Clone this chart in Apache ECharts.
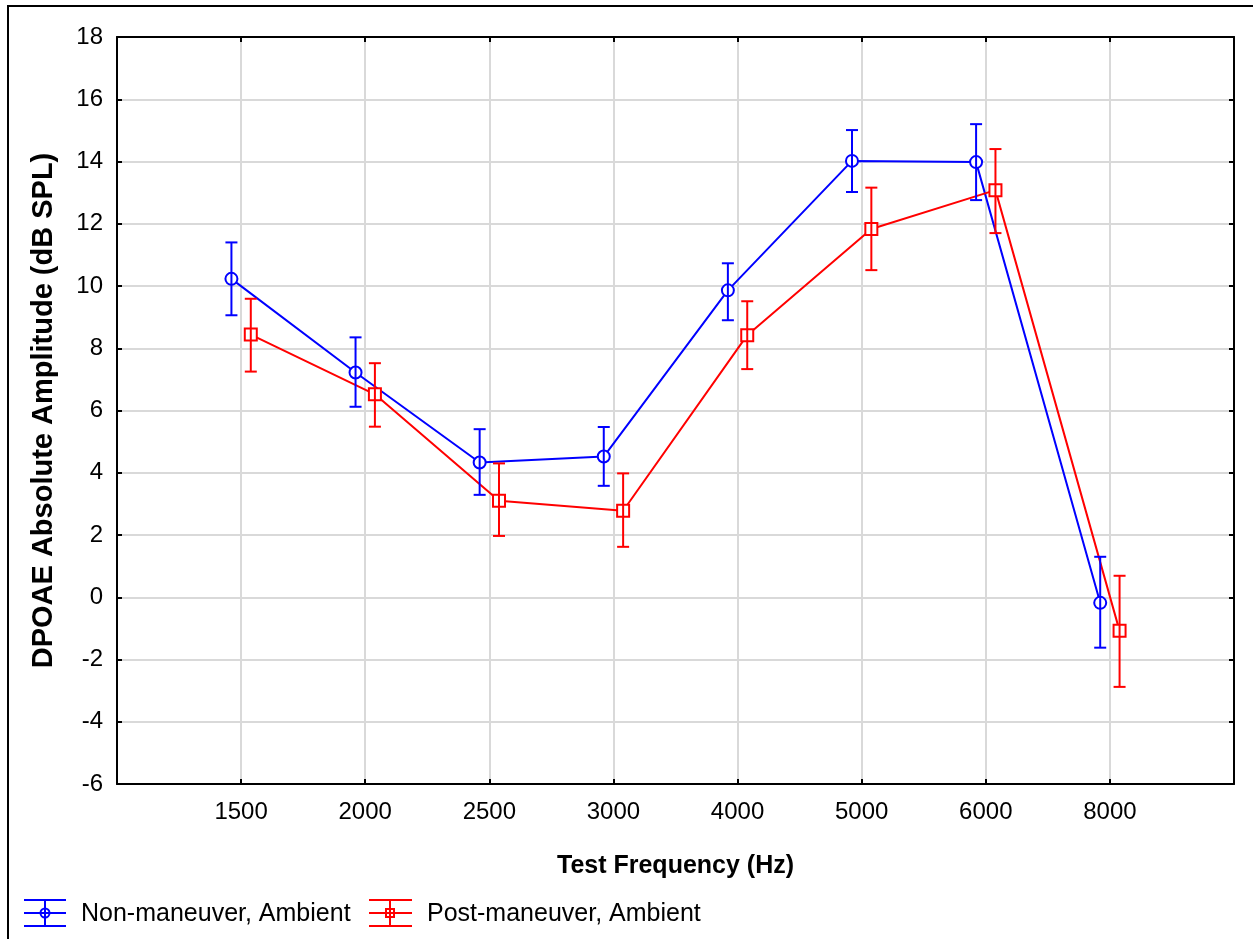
<!DOCTYPE html>
<html>
<head>
<meta charset="utf-8">
<script src="https://cdn.jsdelivr.net/npm/echarts@6/dist/echarts.min.js"></script>
<style>
html,body{margin:0;padding:0;background:#fff;}
#chart{width:1253px;height:939px;}
</style>
</head>
<body>
<div id="chart"></div>
<script>
const categories = ['1500','2000','2500','3000','4000','5000','6000','8000'];
const yTicks = [-6,-4,-2,0,2,4,6,8,10,12,14,16,18];
const seriesNames = ['Non-maneuver, Ambient','Post-maneuver, Ambient'];
const blueMean = [10.23, 7.22, 4.33, 4.52, 9.86, 14.02, 13.98, -0.18];
const blueLow  = [9.06, 6.12, 3.29, 3.58, 8.90, 13.02, 12.76, -1.62];
const blueHigh = [11.40, 8.35, 5.40, 5.47, 10.73, 15.01, 15.20, 1.30];
const redMean  = [8.44, 6.52, 3.10, 2.78, 8.42, 11.83, 13.08, -1.08];
const redLow   = [7.25, 5.48, 1.97, 1.62, 7.33, 10.51, 11.70, -2.88];
const redHigh  = [9.59, 7.52, 4.30, 3.98, 9.51, 13.16, 14.40, 0.69];

const FONT = 'Liberation Sans, Arial, sans-serif';
const BLUE = '#0000ff', RED = '#ff0000';
const OFF = 0.078;
const LW = 2;

function pts(mean, off){ return mean.map((v,i)=>[i+1+off, v]); }
function errs(lo, hi, off){ return lo.map((v,i)=>[i+1+off, v, hi[i]]); }

function errRender(color){
  return function(params, api){
    const x = api.value(0);
    const p1 = api.coord([x, api.value(1)]);
    const p2 = api.coord([x, api.value(2)]);
    const w = 6;
    const st = {stroke: color, lineWidth: LW};
    return {type:'group', children:[
      {type:'line', shape:{x1:p1[0],y1:p1[1],x2:p2[0],y2:p2[1]}, style:st},
      {type:'line', shape:{x1:p1[0]-w,y1:p1[1],x2:p1[0]+w,y2:p1[1]}, style:st},
      {type:'line', shape:{x1:p2[0]-w,y1:p2[1],x2:p2[0]+w,y2:p2[1]}, style:st}
    ]};
  };
}

const chart = echarts.init(document.getElementById('chart'), null, {renderer:'canvas'});
const axisLine = {show:true, onZero:false, lineStyle:{color:'#000', width:2}};
const tick = {show:true, inside:true, length:5, lineStyle:{color:'#000', width:2}};
const split = {show:true, lineStyle:{color:'#d9d9d9', width:2}};

const option = {
  animation:false,
  backgroundColor:'#fff',
  grid:{left:117, top:37, right:19, bottom:155, containLabel:false},
  xAxis:[{
    type:'value', min:0, max:9, interval:1, position:'bottom',
    axisLine, axisTick:tick, splitLine:split,
    axisLabel:{margin:16, color:'#000', fontSize:24, fontFamily:FONT,
      formatter:(v)=> (v>=1 && v<=8) ? categories[v-1] : ''},
    name:'Test Frequency (Hz)', nameLocation:'middle', nameGap:70,
    nameTextStyle:{color:'#000', fontSize:25, fontWeight:'bold', fontFamily:FONT}
  },{
    type:'value', min:0, max:9, interval:1, position:'top',
    axisLine, axisTick:tick, splitLine:{show:false}, axisLabel:{show:false}
  }],
  yAxis:[{
    type:'value', min:yTicks[0], max:yTicks[yTicks.length-1], interval:2, position:'left',
    axisLine, axisTick:tick, splitLine:split,
    axisLabel:{margin:14, color:'#000', fontSize:24, fontFamily:FONT},
    name:'DPOAE Absolute Amplitude (dB SPL)', nameLocation:'middle', nameGap:59, nameRotate:90,
    nameTextStyle:{color:'#000', fontSize:29, fontWeight:'bold', fontFamily:FONT}
  },{
    type:'value', min:yTicks[0], max:yTicks[yTicks.length-1], interval:2, position:'right',
    axisLine, axisTick:tick, splitLine:{show:false}, axisLabel:{show:false}
  }],
  series:[
    {name:seriesNames[0], type:'line', data:pts(blueMean,-OFF), symbol:'circle', symbolSize:12,
     itemStyle:{color:'#fff', borderColor:BLUE, borderWidth:LW}, lineStyle:{color:BLUE, width:LW}, z:3},
    {name:seriesNames[1], type:'line', data:pts(redMean,OFF), symbol:'rect', symbolSize:12,
     itemStyle:{color:'#fff', borderColor:RED, borderWidth:LW}, lineStyle:{color:RED, width:LW}, z:3},
    {type:'custom', data:errs(blueLow,blueHigh,-OFF), renderItem:errRender(BLUE), z:4},
    {type:'custom', data:errs(redLow,redHigh,OFF), renderItem:errRender(RED), z:4}
  ],
  graphic:[
    {type:'rect', shape:{x:8,y:6,width:1270,height:1000}, style:{fill:'none', stroke:'#000', lineWidth:2}, z:-1, silent:true},
    {type:'line', shape:{x1:24,y1:900,x2:66,y2:900}, style:{stroke:BLUE,lineWidth:LW}},
    {type:'line', shape:{x1:24,y1:913,x2:66,y2:913}, style:{stroke:BLUE,lineWidth:LW}},
    {type:'line', shape:{x1:24,y1:926,x2:66,y2:926}, style:{stroke:BLUE,lineWidth:LW}},
    {type:'line', shape:{x1:45,y1:900,x2:45,y2:926}, style:{stroke:BLUE,lineWidth:LW}},
    {type:'circle', shape:{cx:45,cy:913,r:4.5}, style:{fill:'none',stroke:BLUE,lineWidth:LW}},
    {type:'text', x:81, y:914, style:{text:seriesNames[0], fill:'#000', fontSize:25, fontFamily:FONT, verticalAlign:'middle'}},
    {type:'line', shape:{x1:369,y1:900,x2:412,y2:900}, style:{stroke:RED,lineWidth:LW}},
    {type:'line', shape:{x1:369,y1:913,x2:412,y2:913}, style:{stroke:RED,lineWidth:LW}},
    {type:'line', shape:{x1:369,y1:926,x2:412,y2:926}, style:{stroke:RED,lineWidth:LW}},
    {type:'line', shape:{x1:390,y1:900,x2:390,y2:926}, style:{stroke:RED,lineWidth:LW}},
    {type:'rect', shape:{x:386,y:909,width:8,height:8}, style:{fill:'none',stroke:RED,lineWidth:LW}},
    {type:'text', x:427, y:914, style:{text:seriesNames[1], fill:'#000', fontSize:25, fontFamily:FONT, verticalAlign:'middle'}}
  ]
};
chart.setOption(option);
</script>
</body>
</html>
